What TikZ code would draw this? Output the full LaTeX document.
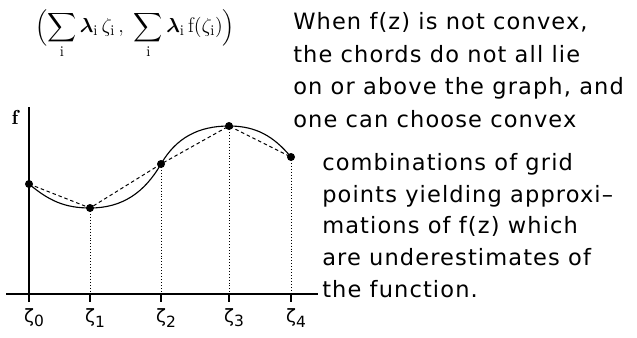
\documentclass[tikz,border=0pt]{standalone}
\usepackage{amsmath}
\usepackage{fontspec}
\newfontfamily\geneva[LetterSpace=5]{DejaVu Sans}
\usetikzlibrary{positioning}

\begin{document}
\begin{tikzpicture}[x=0.025cm, y=0.025cm,
    axis/.style={line width=1.4pt},
    curve/.style={line width=0.8pt},
    chord/.style={line width=0.7pt, dash pattern=on 2.5pt off 2pt},
    drop/.style={line width=0.7pt, dash pattern=on 0.7pt off 1.4pt},
    pt/.style={circle, fill, inner sep=0pt, minimum size=0.2cm},
    zlbl/.style={font=\geneva\fontsize{13}{13}\selectfont, inner sep=0pt},
    txt/.style={font=\geneva\fontsize{16}{23.3}\selectfont, align=left, inner sep=0pt, anchor=north west}
]
\useasboundingbox (0,0) rectangle (637,337);

% axes
\coordinate (ybot) at (29,35);
\coordinate (ytop) at (29,230);
\coordinate (xl) at (6,43);
\coordinate (xr) at (318,43);
\draw[axis] (ybot) -- (ytop);
\draw[axis] (xl) -- (xr);
\node[font=\Large] (flab) at (15,220) {$\mathbf{f}$};

% grid points
\node[pt] (p0) at (29,153) {};
\node[pt] (p1) at (90,129) {};
\node[pt] (p2) at (161,173) {};
\node[pt] (p3) at (229,211) {};
\node[pt] (p4) at (291,180) {};

\node[zlbl] (l0) at (34,19) {ζ\raisebox{-3pt}{\fontsize{11}{11}\selectfont 0}};
\foreach \n/\x in {1/90,2/161,3/229,4/291} {
  \coordinate (z\n) at (\x,43);
  \draw[axis] (z\n) -- ++(0,-8);
  \draw[drop] (p\n.center) -- (z\n);
  \node[zlbl] (l\n) at (\x+5,19) {ζ\raisebox{-3pt}{\fontsize{11}{11}\selectfont \n}};
}

% function and chords
\draw[curve] (p0.center) to[out=-40,in=180] (p1.center) to[out=0,in=-120] (p2.center)
  to[out=60,in=180] (p3.center) to[out=0,in=130] (p4.center);
\draw[chord] (p0.center) -- (p1.center) -- (p2.center) -- (p3.center) -- (p4.center);

\node[font=\fontsize{15}{15}\selectfont, inner sep=0pt] (sum) at (135,303)
  {$\displaystyle\Bigl(\sum_{\mathrm{i}}\boldsymbol{\lambda}_{\mathrm{i}}\,\zeta_{\mathrm{i}}\,,\ \sum_{\mathrm{i}}\boldsymbol{\lambda}_{\mathrm{i}}\,\mathrm{f}(\zeta_{\mathrm{i}})\Bigr)$};

% text
\node[txt] (top) at (293,325) {When f(z) is not convex,\\the chords do not all lie\\on or above the graph, and\\one can choose convex};
\node[txt, font=\geneva\fontsize{16}{22.6}\selectfont] (bot) at (322,184) {combinations of grid\\points yielding approxi–\\mations of f(z) which\\are underestimates of\\the function.};
\end{tikzpicture}
\end{document}
